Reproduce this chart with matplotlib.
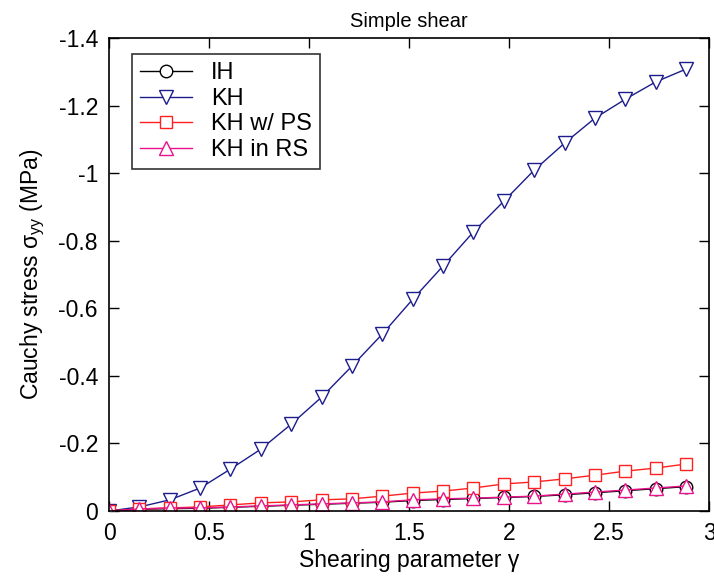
import numpy as np
import matplotlib.pyplot as plt
from matplotlib.ticker import FuncFormatter, MultipleLocator

plt.rcParams['font.family'] = ['Liberation Sans', 'DejaVu Sans']
plt.rcParams['mathtext.fontset'] = 'custom'
plt.rcParams['mathtext.rm'] = 'Liberation Sans'
plt.rcParams['mathtext.it'] = 'Liberation Sans'

# shearing parameter gamma
gamma = [0.0, 0.152, 0.304, 0.456, 0.607, 0.759, 0.911, 1.063, 1.215, 1.367,
         1.519, 1.670, 1.822, 1.974, 2.126, 2.278, 2.430, 2.582, 2.733, 2.885]

# sigma_yy (MPa)
ih = [0.0, -0.005, -0.007, -0.008, -0.011, -0.014, -0.017, -0.020, -0.023, -0.026,
      -0.031, -0.034, -0.037, -0.040, -0.043, -0.048, -0.054, -0.060, -0.066, -0.072]
kh = [0.0, -0.012, -0.033, -0.068, -0.124, -0.183, -0.257, -0.337, -0.429, -0.524,
      -0.627, -0.725, -0.826, -0.917, -1.009, -1.089, -1.163, -1.219, -1.270, -1.308]
kh_ps = [0.0, -0.006, -0.009, -0.012, -0.018, -0.024, -0.027, -0.033, -0.036, -0.044,
         -0.053, -0.059, -0.068, -0.080, -0.086, -0.095, -0.106, -0.118, -0.127, -0.139]
kh_rs = [0.0, -0.006, -0.009, -0.009, -0.012, -0.015, -0.018, -0.021, -0.024, -0.027,
         -0.033, -0.036, -0.038, -0.041, -0.044, -0.050, -0.056, -0.062, -0.068, -0.074]

fig = plt.figure(figsize=(7.14, 5.77), dpi=100)
ax = fig.add_axes([0.1527, 0.1144, 0.8403, 0.8197])

ax.plot(gamma, ih, color='black', marker='o', ms=9, mfc='white', mec='black',
        lw=1, label='IH')
ax.plot(gamma, kh, color='#1c1c8c', marker='v', ms=10, mfc='white', mec='#1c1c8c',
        lw=1, label='KH')
ax.plot(gamma, kh_ps, color='#ff2020', marker='s', ms=8.5, mfc='white', mec='#ff2020',
        lw=1, label='KH w/ PS')
ax.plot(gamma, kh_rs, color='#e8128a', marker='^', ms=10, mfc='white', mec='#e8128a',
        lw=1, label='KH in RS')

ax.set_xlim(0, 3)
ax.set_ylim(0, -1.4)
ax.xaxis.set_major_locator(MultipleLocator(0.5))
ax.yaxis.set_major_locator(MultipleLocator(0.2))


def tick_fmt(v, pos):
    if abs(v) < 1e-9:
        return '0'
    return '%g' % round(v, 6)


ax.xaxis.set_major_formatter(FuncFormatter(tick_fmt))
ax.yaxis.set_major_formatter(FuncFormatter(tick_fmt))
ax.tick_params(direction='in', top=True, right=True, length=7, width=1,
               labelsize=16.5, pad=8)
for s in ax.spines.values():
    s.set_linewidth(1.2)

ax.set_xlabel('Shearing parameter γ', fontsize=16.5, labelpad=3)
ax.set_ylabel('Cauchy stress σ$_{\\mathrm{yy}}$ (MPa)', fontsize=16.5, labelpad=8)
ax.set_title('Simple shear', fontsize=14.5, pad=8)

leg = ax.legend(loc='upper left', bbox_to_anchor=(0.038, 0.966), borderaxespad=0,
                fontsize=17, frameon=True, fancybox=False, edgecolor='black',
                handlelength=2.2, borderpad=0.35, labelspacing=0.15,
                handletextpad=0.8)
leg.get_frame().set_linewidth(1.2)

fig.savefig('out.png', dpi=100)
